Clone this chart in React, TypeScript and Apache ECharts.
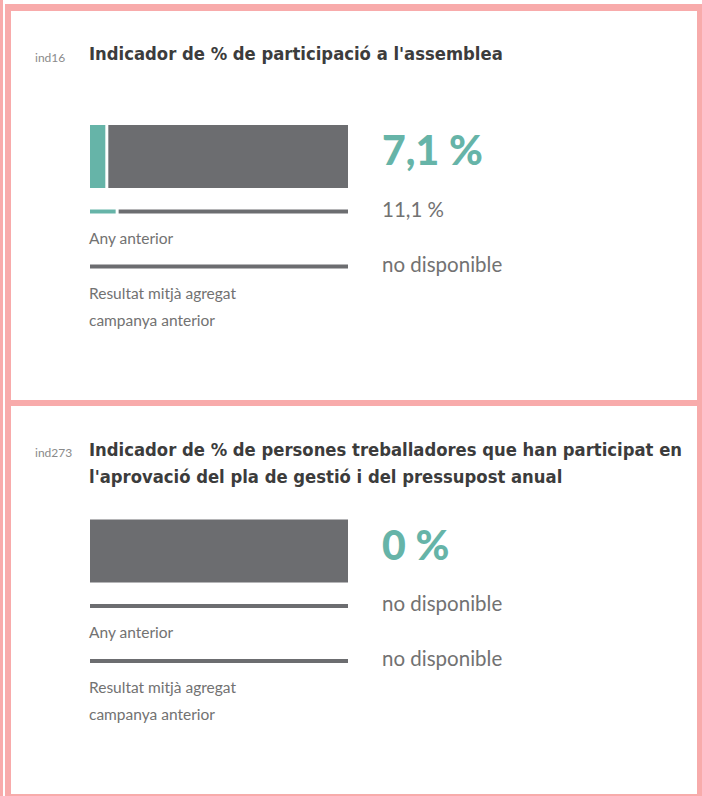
import React, { useEffect, useRef } from 'react';
import * as echarts from 'echarts';

// ---- data ----
const indicatorCodes = ['ind16', 'ind273'];
const indicatorTitles = [
  "Indicador de % de participació a l'assemblea",
  "Indicador de % de persones treballadores que han participat en\nl'aprovació del pla de gestió i del pressupost anual",
];
const rowLabels = ['Resultat', 'Any anterior', 'Resultat mitjà agregat\ncampanya anterior'];
const card1Values: (number | null)[] = [7.1, 11.1, null];
const card2Values: (number | null)[] = [0, null, null];
const notAvailable = 'no disponible';

// ---- styles ----
const TEAL = '#66b4a8';
const GREY = '#6c6d70';
const LABEL = '#727272';
const TITLE = '#3c3c3c';
const PINK = '#f8abab';
const TITLE_FONT = '"Liberation Sans Narrow", "DejaVu Sans Condensed", sans-serif';
const BODY_FONT = 'Lato, "Open Sans", sans-serif';

const fmt = (v: number | null) => (v == null ? notAvailable : String(v).replace('.', ',') + ' %');

function makeRender(values: (number | null)[]) {
  return (params: any, api: any) => {
    const i = params.dataIndex;
    const v = values[i];
    const p0 = api.coord([0, i]);
    const p100 = api.coord([100, i]);
    const h = i === 0 ? 63 : 4;
    const cy = p0[1];
    const gap = 3;
    const children: any[] = [];
    let greyStart = p0[0];
    if (v != null && v > 0) {
      const pv = api.coord([v, i]);
      children.push({
        type: 'rect',
        shape: { x: p0[0], y: cy - h / 2, width: pv[0] - p0[0] - gap, height: h },
        style: { fill: TEAL },
      });
      greyStart = pv[0];
    }
    children.push({
      type: 'rect',
      shape: { x: greyStart, y: cy - h / 2, width: p100[0] - greyStart, height: h },
      style: { fill: GREY },
    });
    children.push({
      type: 'text',
      x: p100[0] + 34,
      y: i === 0 ? cy - 7 : cy - 3,
      style: {
        text: fmt(v),
        fill: i === 0 ? TEAL : LABEL,
        fontFamily: BODY_FONT,
        fontSize: i === 0 ? 41 : 20.5,
        fontWeight: i === 0 ? 900 : 'normal',
        verticalAlign: 'middle',
        align: 'left',
      },
    });
    if (i > 0) {
      children.push({
        type: 'text',
        x: p0[0] - 1,
        y: cy + 12.5,
        style: {
          text: rowLabels[i],
          fill: LABEL,
          fontFamily: BODY_FONT,
          fontSize: 15.5,
          lineHeight: 27,
          verticalAlign: 'top',
          align: 'left',
        },
      });
    }
    return { type: 'group', children };
  };
}

export default function App() {
  const ref = useRef<HTMLDivElement>(null);
  useEffect(() => {
    document.body.style.margin = '0';
    const chart = echarts.init(ref.current!, undefined, { renderer: 'svg' });
    const cards = [card1Values, card2Values];
    const tops = [129, 523.5];
    chart.setOption({
      animation: false,
      backgroundColor: '#ffffff',
      grid: tops.map((t) => ({ left: 90, width: 258, top: t, height: 165 })),
      xAxis: tops.map((_, g) => ({ gridIndex: g, type: 'value', min: 0, max: 100, show: false })),
      yAxis: tops.map((_, g) => ({
        gridIndex: g,
        type: 'category',
        data: rowLabels,
        inverse: true,
        show: false,
      })),
      series: cards.map((vals, g) => ({
        type: 'custom',
        xAxisIndex: g,
        yAxisIndex: g,
        clip: false,
        data: vals.map((v, i) => [i, v == null ? 0 : v]),
        renderItem: makeRender(vals),
      })),
      graphic: [
        // borders
        { type: 'rect', shape: { x: 0, y: 0, width: 3, height: 796 }, style: { fill: PINK } },
        { type: 'rect', shape: { x: 5, y: 4, width: 6, height: 792 }, style: { fill: PINK } },
        { type: 'rect', shape: { x: 5, y: 4, width: 697, height: 7 }, style: { fill: PINK } },
        { type: 'rect', shape: { x: 697, y: 4, width: 5, height: 792 }, style: { fill: PINK } },
        { type: 'rect', shape: { x: 5, y: 400, width: 697, height: 6 }, style: { fill: PINK } },
        { type: 'rect', shape: { x: 5, y: 794, width: 697, height: 2 }, style: { fill: PINK } },
        // codes
        {
          type: 'text', x: 35, y: 57,
          style: { text: indicatorCodes[0], fill: '#8a8a8a', fontFamily: BODY_FONT, fontSize: 12, verticalAlign: 'middle' },
        },
        {
          type: 'text', x: 35, y: 452,
          style: { text: indicatorCodes[1], fill: '#8a8a8a', fontFamily: BODY_FONT, fontSize: 12, verticalAlign: 'middle' },
        },
        // titles
        {
          type: 'text', x: 89, y: 40,
          style: { text: indicatorTitles[0], fill: TITLE, fontFamily: TITLE_FONT, fontWeight: 'bold', fontSize: 18.3, lineHeight: 27, verticalAlign: 'top' },
        },
        {
          type: 'text', x: 89, y: 436,
          style: { text: indicatorTitles[1], fill: TITLE, fontFamily: TITLE_FONT, fontWeight: 'bold', fontSize: 18.3, lineHeight: 27, verticalAlign: 'top' },
        },
      ],
    });
    return () => chart.dispose();
  }, []);
  return <div ref={ref} style={{ width: 702, height: 796 }} />;
}
